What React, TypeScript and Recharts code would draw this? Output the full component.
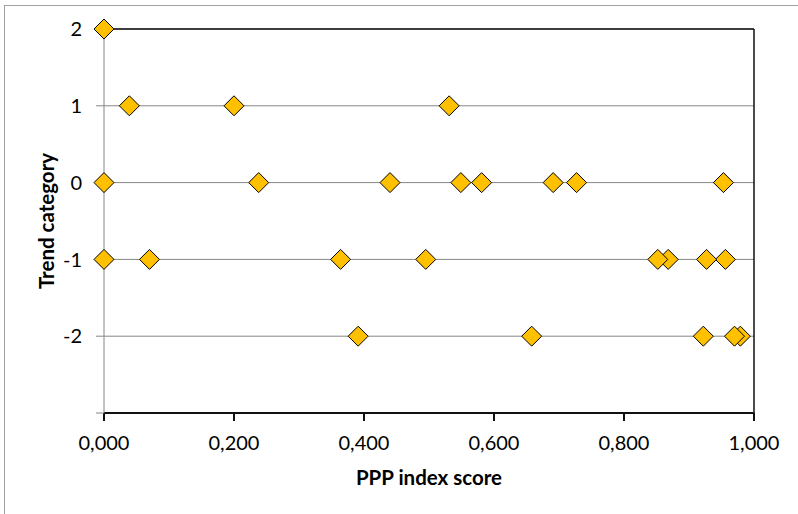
import { ScatterChart, Scatter, XAxis, YAxis, CartesianGrid, ReferenceLine } from 'recharts'

// PPP index scores grouped by trend category (leftmost last so it draws on top)
const trendPlus2 = [0.0]
const trendPlus1 = [0.531, 0.2, 0.039]
const trendZero = [0.953, 0.727, 0.691, 0.581, 0.549, 0.44, 0.238, 0.0]
const trendMinus1 = [0.956, 0.927, 0.868, 0.852, 0.495, 0.364, 0.07, 0.0]
const trendMinus2 = [0.979, 0.97, 0.922, 0.658, 0.391]

const xTicks = [0, 0.2, 0.4, 0.6, 0.8, 1]
const yTicks = [-3, -2, -1, 0, 1, 2]

const groups: [number, number[]][] = [
  [2, trendPlus2],
  [1, trendPlus1],
  [0, trendZero],
  [-1, trendMinus1],
  [-2, trendMinus2],
]
const data = groups.flatMap(([trend, scores]) => scores.map((score) => ({ score, trend })))

const FONT = 'Lato, "Open Sans", sans-serif'
const GRID = '#868686'

const Diamond = (props: any) => {
  const { cx, cy } = props
  const r = 10
  return (
    <polygon
      points={`${cx},${cy - r} ${cx + r},${cy} ${cx},${cy + r} ${cx - r},${cy}`}
      fill="#FFC000"
      stroke="#000"
      strokeWidth={1}
    />
  )
}

const fmtX = (v: number) => v.toFixed(3).replace('.', ',')
const fmtY = (v: number) => (v === -3 ? '' : String(v))

export default function App() {
  return (
    <div style={{ position: 'absolute', left: 0, top: 0, width: 798, height: 514, overflow: 'hidden', background: '#fff' }}>
      <div style={{ position: 'absolute', left: 0, top: 0 }}>
        <ScatterChart width={798} height={514} margin={{ top: 29, right: 44, bottom: 0, left: 0 }}>
          <CartesianGrid vertical={false} stroke={GRID} strokeWidth={1} />
          <XAxis
            type="number"
            dataKey="score"
            domain={[0, 1]}
            ticks={xTicks}
            tickFormatter={fmtX}
            height={101}
            stroke="#111"
            strokeWidth={2}
            tickSize={8}
            tickMargin={15}
            tick={{ fill: '#000', fontSize: 20, fontFamily: FONT }}
          />
          <YAxis
            type="number"
            dataKey="trend"
            domain={[-3, 2]}
            ticks={yTicks}
            tickFormatter={fmtY}
            width={104}
            stroke={GRID}
            tickSize={8}
            tickMargin={14}
            tick={{ fill: '#000', fontSize: 20, fontFamily: FONT }}
          />
          <ReferenceLine y={2} stroke="#111" strokeWidth={1.5} />
          <ReferenceLine x={1} stroke="#111" strokeWidth={1.5} />
          <Scatter data={data} shape={Diamond} isAnimationActive={false} />
        </ScatterChart>
      </div>
      <div
        style={{
          position: 'absolute',
          left: 4,
          top: 5,
          width: 1,
          height: 520,
          background: '#a0a0a0',
          zIndex: 5,
        }}
      />
      <div
        style={{
          position: 'absolute',
          left: 4,
          top: 5,
          width: 800,
          height: 1,
          background: '#a0a0a0',
          zIndex: 5,
        }}
      />
      <div
        style={{
          position: 'absolute',
          left: 46,
          top: 221,
          transform: 'translate(-50%, -50%) rotate(-90deg)',
          fontFamily: FONT,
          fontWeight: 700,
          fontSize: 20.5,
          whiteSpace: 'nowrap',
        }}
      >
        Trend category
      </div>
      <div
        style={{
          position: 'absolute',
          left: 429,
          top: 477,
          transform: 'translate(-50%, -50%)',
          fontFamily: FONT,
          fontWeight: 700,
          fontSize: 20.5,
          whiteSpace: 'nowrap',
        }}
      >
        PPP index score
      </div>
    </div>
  )
}
